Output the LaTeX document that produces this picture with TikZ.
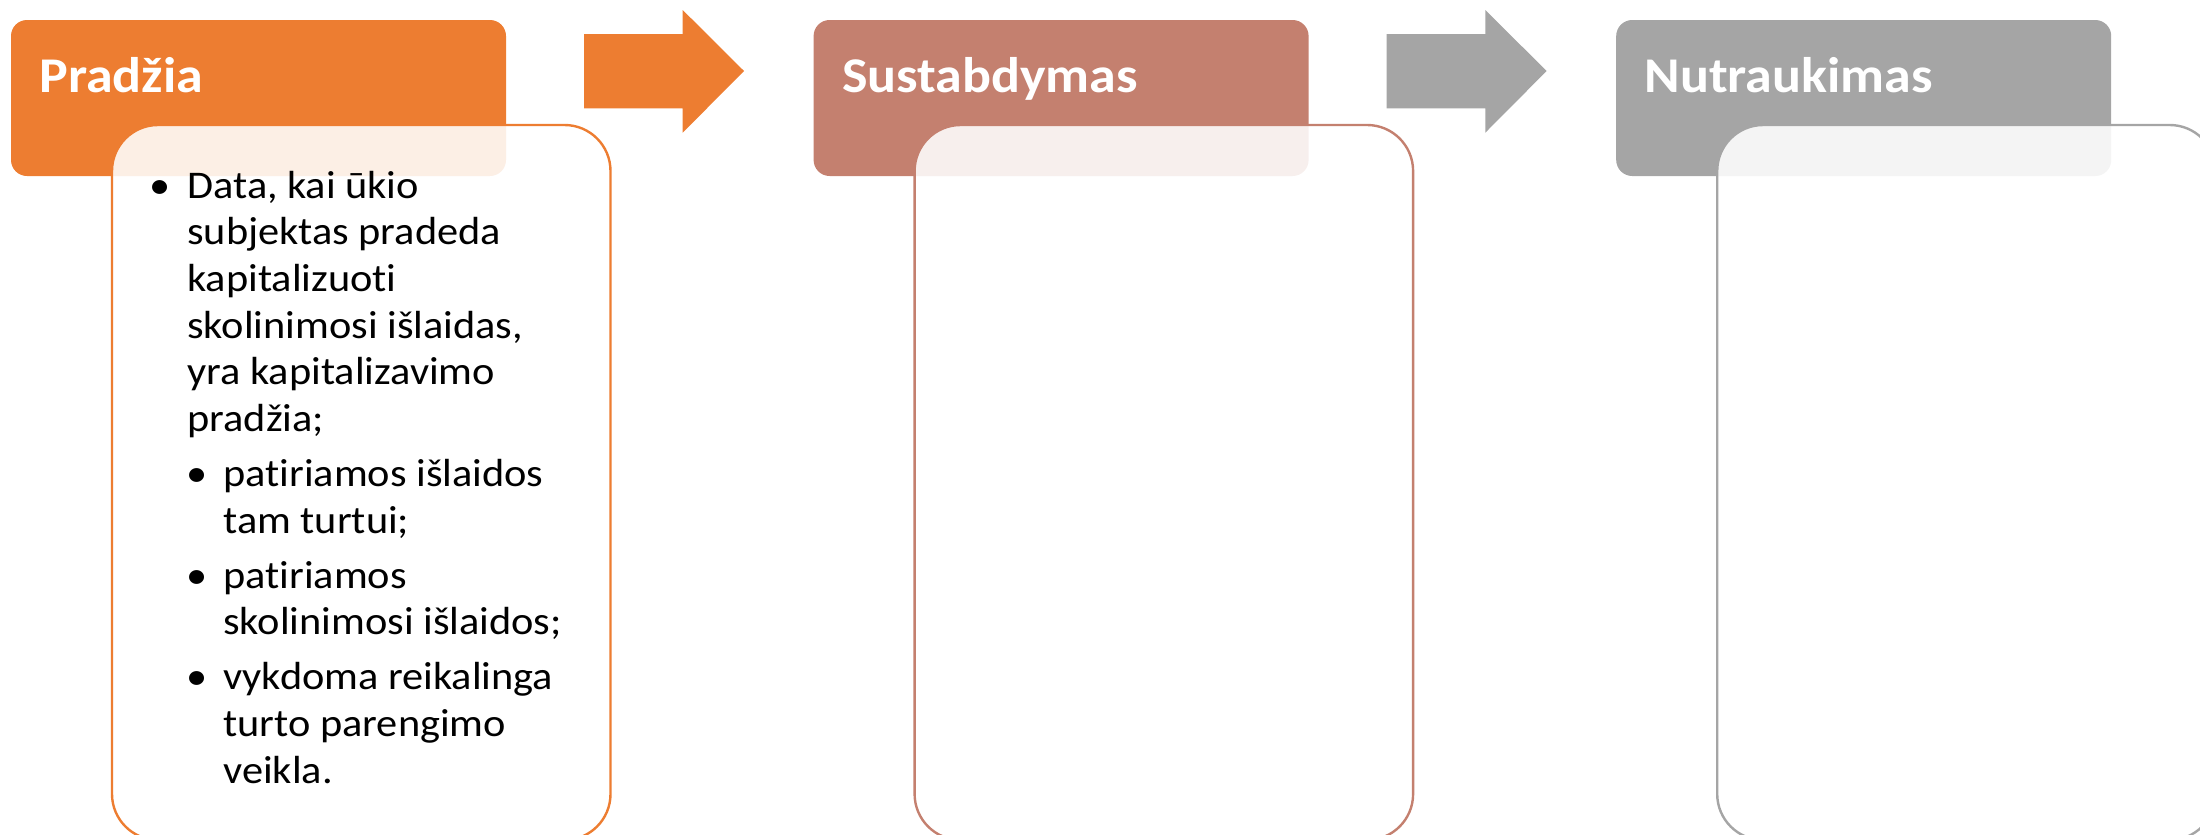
\documentclass[tikz,border=0pt]{standalone}
\usepackage{fontspec}
\setmainfont[FakeStretch=1.08,Ligatures=NoCommon]{Carlito}
\definecolor{acorange}{HTML}{ED7D31}
\definecolor{accoral}{HTML}{C4806F}
\definecolor{acgray}{HTML}{A5A5A5}
\tikzset{
  header/.style={rectangle, rounded corners=8pt, minimum width=247.5pt, minimum height=78pt, inner sep=0pt},
  bodybox/.style={rectangle, rounded corners=23pt, minimum width=249.25pt, minimum height=357.5pt, fill=white, fill opacity=0.88, line width=1.2pt, inner sep=0pt},
  titletext/.style={anchor=base west, inner sep=0pt, text=white, font=\bfseries\fontsize{25}{30}\selectfont},
  itemtext/.style={anchor=base west, inner sep=0pt, align=left, font=\fontsize{19.6}{23.35}\selectfont},
  bul/.style={anchor=base, inner sep=0pt, font=\fontsize{19.6}{23.35}\selectfont}
}
\begin{document}
\begin{tikzpicture}[x=0.5pt,y=-0.5pt]
\useasboundingbox (0,0) rectangle (2200,835);
\clip (0,0) rectangle (2200,835);
% headers
\node[header, fill=acorange] (h1) at (258.5,98) {};
\node[header, fill=accoral] (h2) at (1061.1,98) {};
\node[header, fill=acgray] (h3) at (1863.7,98) {};
\node[titletext] (t1) at (39,92) {Pradžia};
\node[titletext] (t2) at (841.6,92) {Sustabdymas};
\node[titletext] (t3) at (1644.2,92) {Nutraukimas};
% block arrows
\fill[acorange] (584,34) -- (682.7,34) -- (682.7,10) -- (744,71) -- (682.7,132.7) -- (682.7,108.3) -- (584,108.3) -- cycle;
\begin{scope}[xshift=401.3pt]
\fill[acgray] (584,34) -- (682.7,34) -- (682.7,10) -- (744,71) -- (682.7,132.7) -- (682.7,108.3) -- (584,108.3) -- cycle;
\end{scope}
% bodies
\node[bodybox, draw=acorange] (b1) at (361.25,482.5) {};
\node[bodybox, draw=accoral] (b2) at (1163.85,482.5) {};
\node[bodybox, draw=acgray] (b3) at (1966.45,482.5) {};
% text of first body (multi-line nodes are placed by the baseline of their last line)
\node[bul] (u1) at (160,198) {•};
\node[itemtext] (i1) at (187,431.5) {Data, kai ūkio\\subjektas pradeda\\kapitalizuoti\\skolinimosi išlaidas,\\yra kapitalizavimo\\pradžia;};
\node[bul] (u2) at (197,486.5) {•};
\node[itemtext] (i2) at (223,533.2) {patiriamos išlaidos\\tam turtui;};
\node[bul] (u3) at (197,588.2) {•};
\node[itemtext] (i3) at (223,634.9) {patiriamos\\skolinimosi išlaidos;};
\node[bul] (u4) at (197,689.9) {•};
\node[itemtext] (i4) at (223,783.3) {vykdoma reikalinga\\turto parengimo\\veikla.};
\end{tikzpicture}
\end{document}
